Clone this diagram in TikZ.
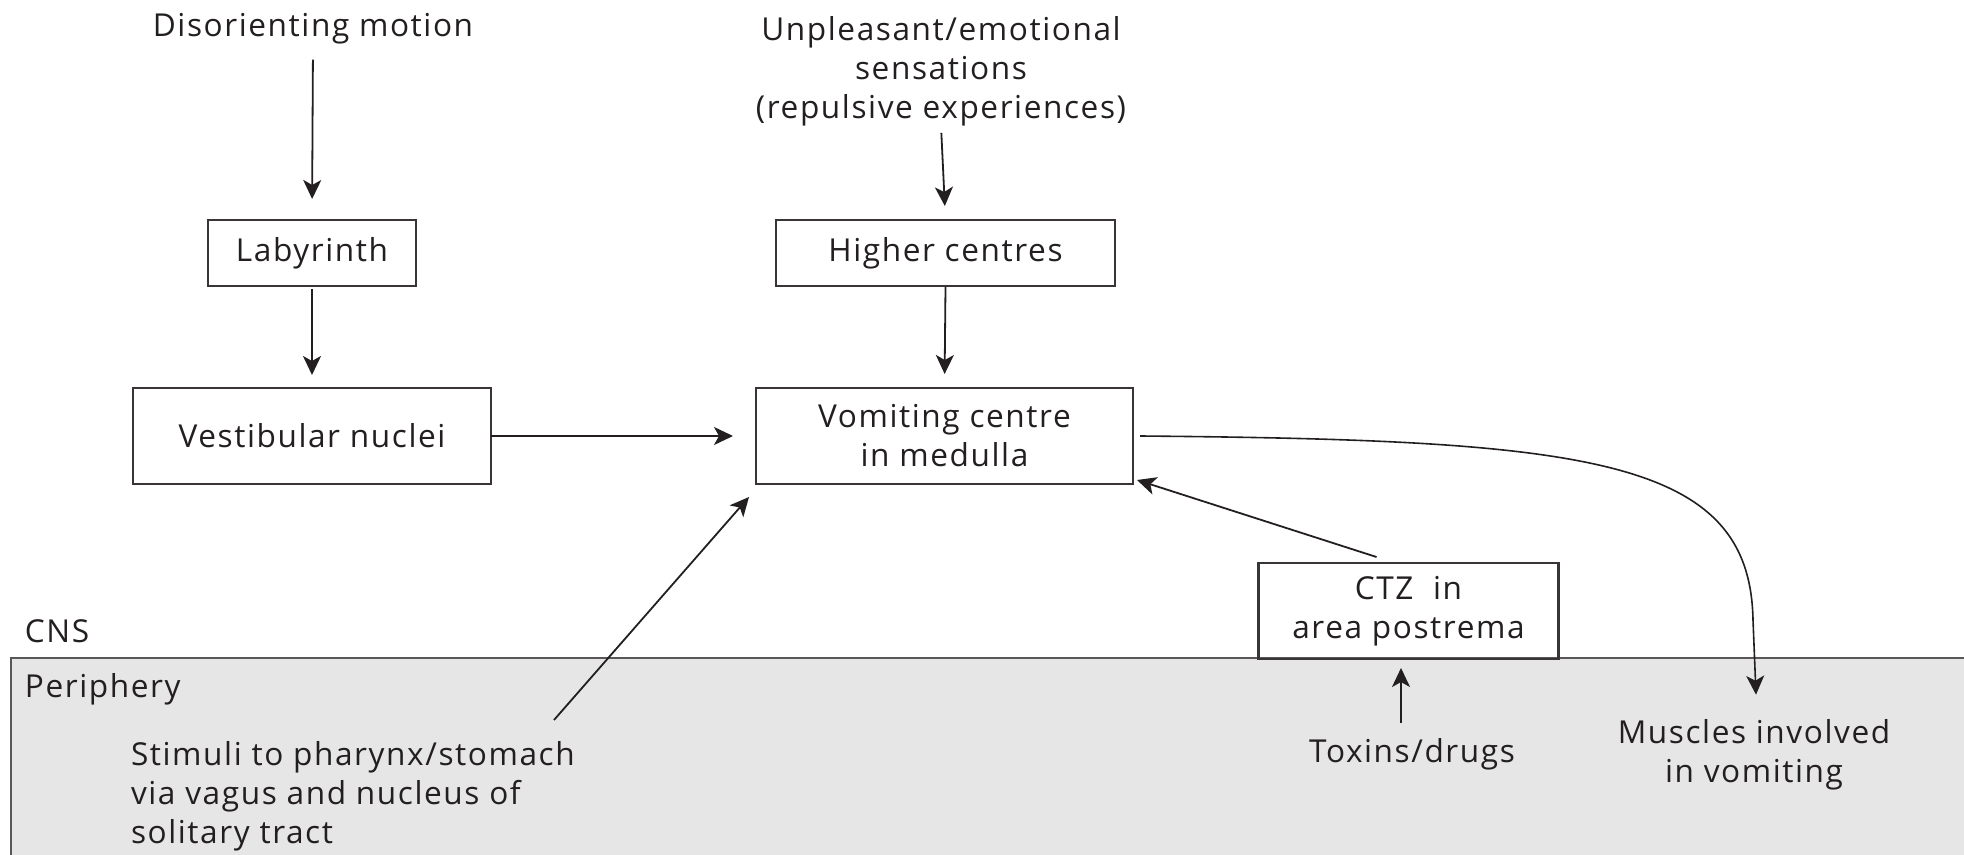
\documentclass[tikz,border=0pt]{standalone}
\usepackage{fontspec}
\setmainfont[LetterSpace=5]{Open Sans}
\usetikzlibrary{arrows.meta,calc}
\definecolor{ink}{HTML}{231F20}
\definecolor{periph}{HTML}{E6E6E6}
\begin{document}
\begin{tikzpicture}[x=0.5pt,y=-0.5pt,
  every node/.style={inner sep=0pt, outer sep=0pt, text=ink,
    font=\fontsize{15.8}{19.5}\selectfont},
  box/.style={draw=ink!90, line width=1.1pt, align=center},
  lbl/.style={align=center},
  arr/.style={draw=ink, line width=0.9pt,
    -{Stealth[length=9.5pt,width=9pt,inset=2.5pt]}},
]
\useasboundingbox (0,0) rectangle (1964,855);

% peripheral region below the CNS border
\fill[periph] (11,658) rectangle (1990,880);
\draw[ink!75, line width=0.7pt] (1990,658) -- (11,658) -- (11,880);

% CNS nodes
\node[lbl, anchor=base] (disorient) at (313,37) {Disorienting motion};
\node[box, minimum width=104pt, minimum height=33pt] (laby) at (312,253) {Labyrinth};
\node[box, minimum width=179pt, minimum height=48pt] (vest) at (312,436) {Vestibular nuclei};
\node[lbl] (unpl) at (941,71) {Unpleasant/emotional\\sensations\\(repulsive experiences)};
\node[box, minimum width=169.5pt, minimum height=33pt] (higher) at (945.5,253) {Higher centres};
\node[box, minimum width=188.5pt, minimum height=48pt] (vomit) at (944.5,436) {Vomiting centre\\in medulla};
\node[box, minimum width=150pt, minimum height=48pt] (ctz) at (1408.5,611) {CTZ\ \ in\\area postrema};

% region labels
\node[anchor=base west] (cns) at (25,642) {CNS};
\node[anchor=base west] (periphery) at (25,697) {Periphery};

% peripheral inputs and outputs
\node[lbl, align=left, anchor=west] (stim) at (131,796) {Stimuli to pharynx/stomach\\via vagus and nucleus of\\solitary tract};
\node[lbl, anchor=base] (toxins) at (1412,762) {Toxins/drugs};
\node[lbl] (muscles) at (1754,755) {Muscles involved\\in vomiting};

\coordinate (stimtail) at (554,720);
\coordinate (ctztail) at ($(ctz.north)+(-32,-6)$);
\coordinate (toxtail) at (1401,723);

% connectors
\draw[arr, shorten <=7.5pt, shorten >=10.5pt] (disorient.south) -- (laby.north);
\draw[arr, shorten <=1.5pt, shorten >=6.5pt] (laby.south) -- (vest.north);
\draw[arr, shorten <=3.5pt, shorten >=7pt] (unpl.south) -- (higher.north);
\draw[arr, shorten <=0.5pt, shorten >=7pt] (higher.south) -- (vomit.north);
\draw[arr, shorten >=11.5pt] (vest.east) -- (vomit.west);
\draw[arr] (ctztail) -- ($(vomit.south east)+(4,-4)$);
\draw[arr] (stimtail) -- ($(vomit.south west)+(-7,13)$);
\draw[arr, shorten >=4.5pt] (toxtail) -- (toxtail |- ctz.south);
\draw[arr, line width=0.8pt] ($(vomit.east)+(7,0)$)
  .. controls (1590,440) and (1750,458) .. (1753,620)
  -- ($(muscles.north)+(2,-25)$);
\end{tikzpicture}
\end{document}
